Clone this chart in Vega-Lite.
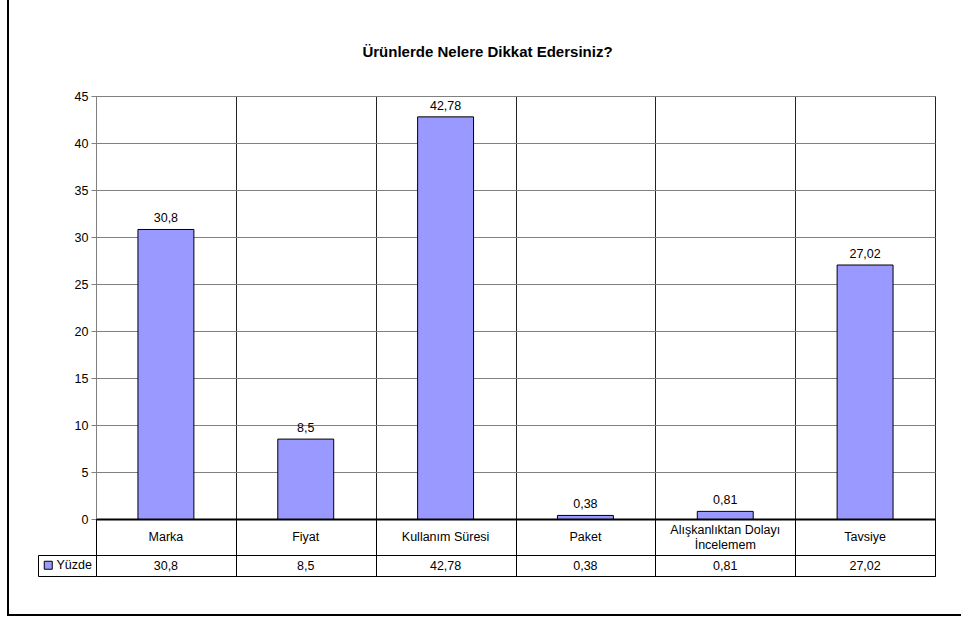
{
  "$schema": "https://vega.github.io/schema/vega-lite/v6.json",
  "padding": {"left": 7, "top": 0, "right": 0, "bottom": 0},
  "background": "white",
  "config": {
    "font": "Liberation Sans",
    "locale": {
      "number": {"decimal": ",", "thousands": ".", "grouping": [3], "currency": ["", " TL"]}
    },
    "view": {"stroke": null},
    "text": {"font": "Liberation Sans", "fontSize": 12.5, "color": "black"},
    "axis": {"labelFont": "Liberation Sans", "labelColor": "black"}
  },
  "datasets": {
    "sonuclar": [
      {"kategori": "Marka", "yuzde": 30.8},
      {"kategori": "Fiyat", "yuzde": 8.5},
      {"kategori": "Kullanım Süresi", "yuzde": 42.78},
      {"kategori": "Paket", "yuzde": 0.38},
      {"kategori": "Alışkanlıktan Dolayı\nİncelemem", "yuzde": 0.81},
      {"kategori": "Tavsiye", "yuzde": 27.02}
    ],
    "baslik": [
      {"metin": "Ürünlerde Nelere Dikkat Edersiniz?"}
    ],
    "bos": []
  },
  "bounds": "full",
  "spacing": 0,
  "vconcat": [
    {
      "bounds": "flush",
      "spacing": 87,
      "hconcat": [
        {
          "width": 2,
          "height": 614,
          "data": {"name": "bos"},
          "mark": "text",
          "view": {"fill": "black", "stroke": null}
        },
        {
          "bounds": "flush",
          "spacing": 0,
          "resolve": {"scale": {"fill": "independent"}, "legend": {"fill": "independent"}},
          "vconcat": [
            {
              "width": 839,
              "height": 96,
              "data": {"name": "baslik"},
              "mark": {"type": "text", "fontWeight": "bold", "fontSize": 15, "dx": -28, "dy": 4},
              "encoding": {"text": {"field": "metin"}}
            },
            {
              "width": 839,
              "height": 423,
              "data": {"name": "sonuclar"},
              "view": {"stroke": "#808080", "strokeWidth": 1},
              "encoding": {
                "x": {
                  "field": "kategori",
                  "type": "nominal",
                  "sort": null,
                  "scale": {"paddingInner": 0, "paddingOuter": 0},
                  "axis": {
                    "title": null,
                    "labels": false,
                    "ticks": false,
                    "domain": true,
                    "domainColor": "black",
                    "domainWidth": 2,
                    "grid": true,
                    "gridColor": "#222222",
                    "tickBand": "extent"
                  }
                },
                "y": {
                  "field": "yuzde",
                  "type": "quantitative",
                  "scale": {"domain": [0, 45], "nice": false},
                  "axis": {
                    "title": null,
                    "values": [0, 5, 10, 15, 20, 25, 30, 35, 40, 45],
                    "grid": true,
                    "gridColor": "#808080",
                    "domainColor": "#808080",
                    "tickColor": "#808080",
                    "tickSize": 5,
                    "labelFontSize": 12.5,
                    "labelPadding": 3
                  }
                }
              },
              "layer": [
                {
                  "mark": {"type": "bar", "fill": "#9999FF", "stroke": "black", "strokeWidth": 1, "width": {"band": 0.4}}
                },
                {
                  "mark": {"type": "text", "baseline": "alphabetic", "dy": -7},
                  "encoding": {"text": {"field": "yuzde", "type": "quantitative", "format": "~f"}}
                }
              ]
            },
            {
              "width": 839,
              "height": 36,
              "data": {"name": "sonuclar"},
              "view": {"stroke": "black"},
              "encoding": {
                "x": {
                  "field": "kategori",
                  "type": "nominal",
                  "sort": null,
                  "scale": {"paddingInner": 0, "paddingOuter": 0},
                  "axis": {
                    "title": null,
                    "labels": false,
                    "ticks": false,
                    "domain": false,
                    "grid": true,
                    "gridColor": "black",
                    "tickBand": "extent"
                  }
                }
              },
              "layer": [
                {
                  "mark": {"type": "text", "baseline": "middle"},
                  "encoding": {
                    "text": {
                      "condition": {"test": "indexof(datum.kategori, '\\n') >= 0", "value": ""},
                      "field": "kategori"
                    }
                  }
                },
                {
                  "transform": [{"filter": "indexof(datum.kategori, '\\n') >= 0"}],
                  "mark": {"type": "text", "baseline": "middle", "lineBreak": "\n", "lineHeight": 15, "dy": -7.5},
                  "encoding": {"text": {"field": "kategori"}}
                }
              ]
            },
            {
              "width": 839,
              "height": 21,
              "data": {"name": "sonuclar"},
              "view": {"stroke": "black"},
              "encoding": {
                "x": {
                  "field": "kategori",
                  "type": "nominal",
                  "sort": null,
                  "scale": {"paddingInner": 0, "paddingOuter": 0},
                  "axis": {
                    "title": null,
                    "labels": false,
                    "ticks": false,
                    "domain": false,
                    "grid": true,
                    "gridColor": "black",
                    "tickBand": "extent"
                  }
                }
              },
              "layer": [
                {
                  "mark": {"type": "square", "opacity": 0, "stroke": "black"},
                  "encoding": {
                    "fill": {
                      "datum": "Yüzde",
                      "scale": {"range": ["#9999FF"]},
                      "legend": {
                        "title": null,
                        "orient": "left",
                        "offset": 0,
                        "padding": 4,
                        "strokeColor": "black",
                        "fillColor": "white",
                        "symbolType": "square",
                        "symbolSize": 64,
                        "symbolStrokeColor": "black",
                        "symbolStrokeWidth": 1,
                        "symbolOpacity": 1,
                        "labelFontSize": 12.5,
                        "labelOffset": 2,
                        "labelColor": "black",
                        "labelFont": "Liberation Sans"
                      }
                    }
                  }
                },
                {
                  "mark": {"type": "text"},
                  "encoding": {"text": {"field": "yuzde", "type": "quantitative", "format": "~f"}}
                }
              ]
            }
          ]
        }
      ]
    },
    {
      "width": 954,
      "height": 2,
      "data": {"name": "bos"},
      "mark": "text",
      "view": {"fill": "black", "stroke": null}
    }
  ]
}
